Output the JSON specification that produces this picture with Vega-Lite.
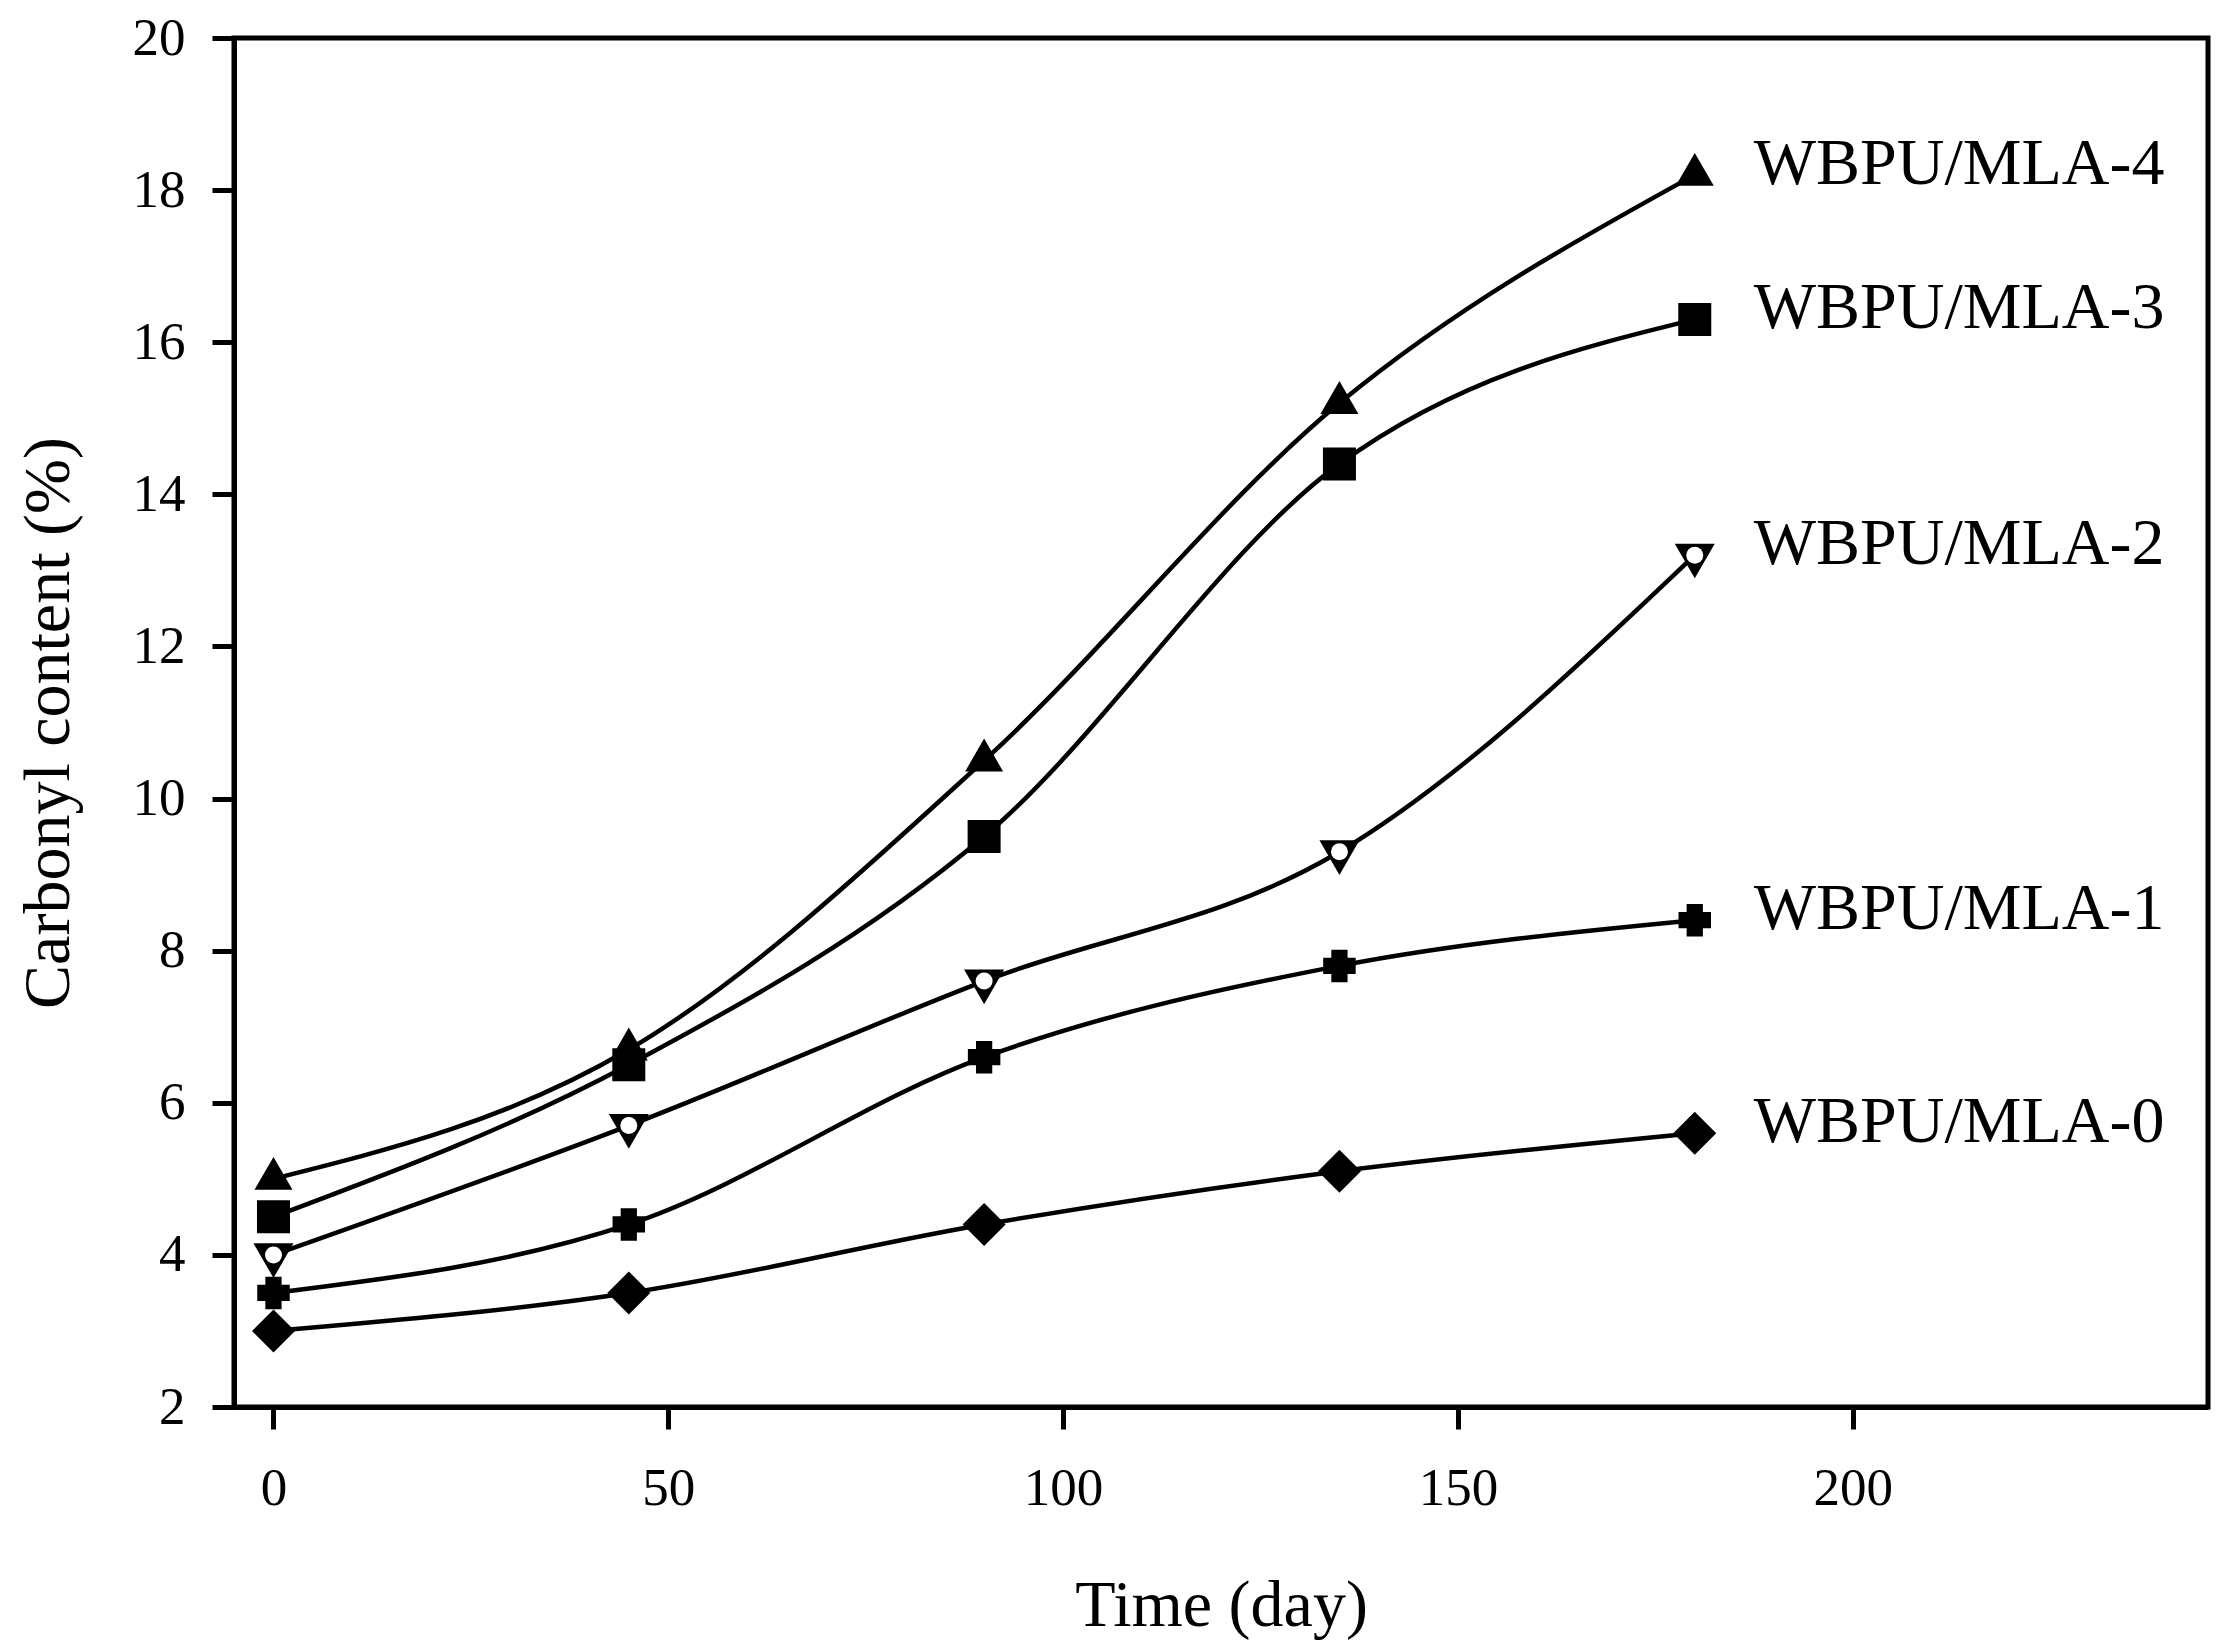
{
  "$schema": "https://vega.github.io/schema/vega-lite/v6.json",
  "width": 1974,
  "height": 1369,
  "autosize": {"type": "none"},
  "padding": {"left": 234, "top": 38, "right": 14, "bottom": 241},
  "background": "white",
  "config": {
    "view": {"stroke": "black", "strokeWidth": 5},
    "font": "Liberation Serif",
    "axis": {
      "grid": false,
      "domainColor": "black",
      "domainWidth": 5,
      "tickColor": "black",
      "tickWidth": 5,
      "tickSize": 22,
      "labelFont": "Liberation Serif",
      "labelFontSize": 53,
      "labelColor": "black",
      "titleFont": "Liberation Serif",
      "titleFontSize": 66,
      "titleFontWeight": "normal",
      "titleColor": "black"
    }
  },
  "data": {
    "values": [
      {"series": "WBPU/MLA-4", "time": 0, "value": 5.0},
      {"series": "WBPU/MLA-4", "time": 45, "value": 6.7},
      {"series": "WBPU/MLA-4", "time": 90, "value": 10.5},
      {"series": "WBPU/MLA-4", "time": 135, "value": 15.2},
      {"series": "WBPU/MLA-4", "time": 180, "value": 18.2},
      {"series": "WBPU/MLA-3", "time": 0, "value": 4.5},
      {"series": "WBPU/MLA-3", "time": 45, "value": 6.5},
      {"series": "WBPU/MLA-3", "time": 90, "value": 9.5},
      {"series": "WBPU/MLA-3", "time": 135, "value": 14.4},
      {"series": "WBPU/MLA-3", "time": 180, "value": 16.3},
      {"series": "WBPU/MLA-2", "time": 0, "value": 4.0},
      {"series": "WBPU/MLA-2", "time": 45, "value": 5.7},
      {"series": "WBPU/MLA-2", "time": 90, "value": 7.6},
      {"series": "WBPU/MLA-2", "time": 135, "value": 9.3},
      {"series": "WBPU/MLA-2", "time": 180, "value": 13.2},
      {"series": "WBPU/MLA-1", "time": 0, "value": 3.5},
      {"series": "WBPU/MLA-1", "time": 45, "value": 4.4},
      {"series": "WBPU/MLA-1", "time": 90, "value": 6.6},
      {"series": "WBPU/MLA-1", "time": 135, "value": 7.8},
      {"series": "WBPU/MLA-1", "time": 180, "value": 8.4},
      {"series": "WBPU/MLA-0", "time": 0, "value": 3.0},
      {"series": "WBPU/MLA-0", "time": 45, "value": 3.5},
      {"series": "WBPU/MLA-0", "time": 90, "value": 4.4},
      {"series": "WBPU/MLA-0", "time": 135, "value": 5.1},
      {"series": "WBPU/MLA-0", "time": 180, "value": 5.6}
    ]
  },
  "encoding": {
    "x": {
      "field": "time",
      "type": "quantitative",
      "scale": {"domain": [-5, 245], "nice": false, "zero": false},
      "axis": {"values": [0, 50, 100, 150, 200], "labelPadding": 33, "title": "Time (day)", "titlePadding": 58}
    },
    "y": {
      "field": "value",
      "type": "quantitative",
      "scale": {"domain": [2, 20], "nice": false, "zero": false},
      "axis": {"values": [2, 4, 6, 8, 10, 12, 14, 16, 18, 20], "labelPadding": 27, "title": "Carbonyl content (%)", "titlePadding": 50}
    }
  },
  "layer": [
    {
      "mark": {"type": "line", "interpolate": "monotone", "color": "black", "strokeWidth": 4.5},
      "encoding": {"detail": {"field": "series", "type": "nominal"}}
    },
    {
      "transform": [{"filter": "datum.series === 'WBPU/MLA-4'"}],
      "mark": {"type": "point", "filled": true, "color": "black", "opacity": 1, "shape": "M0,-1.155L1,0.577L-1,0.577Z", "size": 1444}
    },
    {
      "transform": [{"filter": "datum.series === 'WBPU/MLA-3'"}],
      "mark": {"type": "point", "filled": true, "color": "black", "opacity": 1, "shape": "square", "size": 1089}
    },
    {
      "transform": [{"filter": "datum.series === 'WBPU/MLA-2'"}],
      "mark": {"type": "point", "filled": true, "color": "black", "opacity": 1, "shape": "M0,1.155L1,-0.577L-1,-0.577Z", "size": 1600}
    },
    {
      "transform": [{"filter": "datum.series === 'WBPU/MLA-2'"}],
      "mark": {"type": "point", "filled": true, "color": "white", "opacity": 1, "shape": "circle", "size": 289}
    },
    {
      "transform": [{"filter": "datum.series === 'WBPU/MLA-1'"}],
      "mark": {"type": "point", "filled": true, "color": "black", "opacity": 1, "shape": "M-0.5,-1H0.5V-0.5H1V0.5H0.5V1H-0.5V0.5H-1V-0.5H-0.5Z", "size": 1056}
    },
    {
      "transform": [{"filter": "datum.series === 'WBPU/MLA-0'"}],
      "mark": {"type": "point", "filled": true, "color": "black", "opacity": 1, "shape": "diamond", "size": 1849}
    },
    {
      "transform": [{"filter": "datum.time === 180"}],
      "mark": {"type": "text", "align": "left", "baseline": "alphabetic", "dx": 59, "dy": 9, "font": "Liberation Serif", "fontSize": 66, "color": "black"},
      "encoding": {"text": {"field": "series", "type": "nominal"}}
    }
  ]
}
